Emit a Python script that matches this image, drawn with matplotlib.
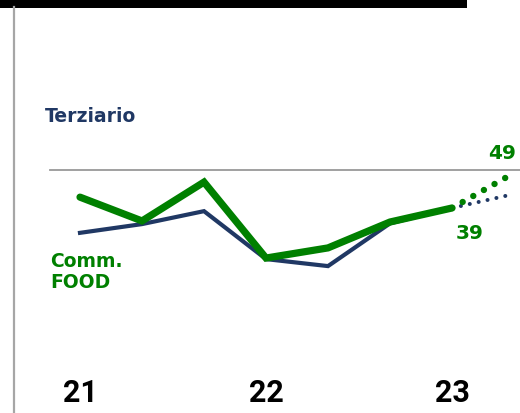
import matplotlib
matplotlib.use("Agg")
import matplotlib.pyplot as plt

# --- data ---
periods = list(range(7))          # solid part, 21 -> 23
forecast_x = [6, 7]               # dotted projection
food = [42.1, 35.3, 46.4, 24.7, 27.6, 35.0, 39.0]
food_fc = [39.0, 49.0]
terziario = [31.9, 34.4, 38.1, 24.4, 22.4, 34.6, 39.0]
terziario_fc = [39.0, 43.0]
ref_level = 50
year_pos = [0, 3, 6]
year_labels = ["21", "22", "23"]

GREEN = "#008000"
NAVY = "#203864"

fig = plt.figure(figsize=(5.2, 4.14), dpi=100)
ax = fig.add_axes([0, 0, 1, 1])
ax.set_axis_off()

# pixel -> data mapping: x px = 80 + 62*i, y px = 209 - 3.5*(v-39)
ax.set_xlim(-80 / 62, (520 - 80) / 62)
ax.set_ylim(39 - 205 / 3.5, 39 + 209 / 3.5)

# frame decorations
ax.axhspan(39 + 200 / 3.5, 39 + 210 / 3.5, xmin=0, xmax=467 / 520, color="black", lw=0)
ax.axvline((13.5 - 80) / 62, ymin=0, ymax=406 / 414, color="#A6A6A6", lw=1.6)
ax.axhline(ref_level, xmin=50 / 520, xmax=1, color="#999999", lw=1.3)

# series
ax.plot(periods, terziario, color=NAVY, lw=3.0, solid_joinstyle="miter", zorder=3)
ax.plot(forecast_x, terziario_fc, color=NAVY, lw=2.9, dash_capstyle="round",
        linestyle=(0, (0.01, 2.25)), zorder=3)
ax.plot(periods, food, color=GREEN, lw=5.2, solid_capstyle="round",
        solid_joinstyle="miter", zorder=4)
ax.plot(forecast_x, food_fc, color=GREEN, lw=4.6, dash_capstyle="round",
        linestyle=(0, (0.01, 1.9)), zorder=4)

# labels
ax.text(-0.565, 65.3, "Terziario", color=NAVY, fontsize=13.5, fontweight="bold",
        family="DejaVu Sans", ha="left", va="center")
ax.text(-0.48, 21.0, "Comm.\nFOOD", color=GREEN, fontsize=13.5, fontweight="bold",
        family="DejaVu Sans", ha="left", va="center", linespacing=1.1)
ax.text(6.29, 32.1, f"{food[-1]:.0f}", color=GREEN, fontsize=14.5, fontweight="bold",
        family="DejaVu Sans", ha="center", va="center")
ax.text(6.81, 55.0, f"{food_fc[-1]:.0f}", color=GREEN, fontsize=14.5, fontweight="bold",
        family="DejaVu Sans", ha="center", va="center")

for xp, lab in zip(year_pos, year_labels):
    ax.text(xp, -13.6, lab, color="black", fontsize=22, fontweight="bold",
            family="Roboto", ha="center", va="center")

fig.savefig("out.png", dpi=100)
